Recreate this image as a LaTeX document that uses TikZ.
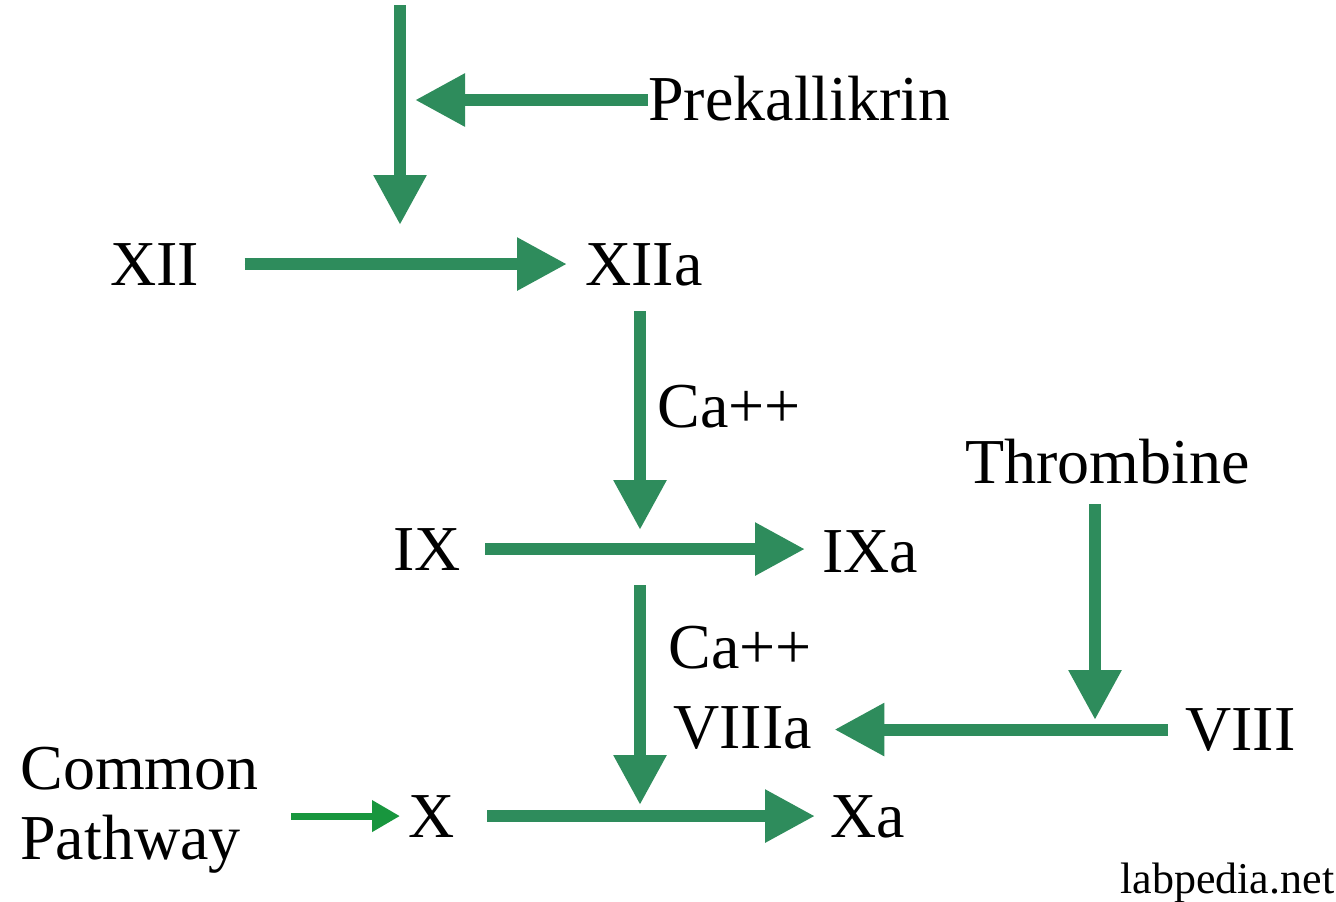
\documentclass[tikz,border=0pt]{standalone}
\usepackage{fontspec}
\setmainfont{Liberation Serif}
\usetikzlibrary{arrows.meta}
\definecolor{flowgreen}{RGB}{46,140,92}
\definecolor{pathgreen}{RGB}{24,150,62}
\begin{document}
\begin{tikzpicture}[
        x=0.5pt, y=-0.5pt,
        every node/.style={inner sep=0pt, anchor=base west, font=\fontsize{32}{33}\selectfont},
        flow/.style={draw=flowgreen, line width=6pt, -{Triangle[length=25pt, width=25pt]}, fill=flowgreen},
        thin flow/.style={draw=pathgreen, line width=3.5pt, -{Triangle[length=14pt, width=15pt]}, fill=pathgreen}
    ]
    \useasboundingbox (0,0) rectangle (1336,901);
    % factors
    \node (pre) at (648,120) {Prekallikrin};
    \node (xii) at (110,285) {XII};
    \node (xiia) at (585,285) {XIIa};
    \node (ca1) at (657,427) {Ca++};
    \node (thr) at (965,483) {Thrombine};
    \node (ix) at (393,570) {IX};
    \node (ixa) at (822,572) {IXa};
    \node (ca2) at (668,668) {Ca++};
    \node (viiia) at (673,748) {VIIIa};
    \node (viii) at (1185,750) {VIII};
    \node[anchor=west, align=left, font=\fontsize{32}{35}\selectfont] (common) at (20,810) {Common\\Pathway};
    \node (x) at (408,837) {X};
    \node (xa) at (830,837) {Xa};
    \node[font=\fontsize{22}{24}\selectfont] (lab) at (1120,893) {labpedia.net};
    % free ends
    \coordinate (top) at (400,5);
    \coordinate (k1) at (400,225);
    \coordinate (k2) at (415,100);
    \coordinate (j1) at (640,530);
    \coordinate (s2) at (640,585);
    \coordinate (j2) at (640,805);
    \coordinate (j3) at (1095,720);
    % arrows
    \draw[flow] (top) -- (k1);
    \draw[flow] (k2 -| pre.west) -- (k2);
    \draw[flow, shorten <=22.5pt, shorten >=9pt] (xii.east) -- (xii.east -| xiia.west);
    \draw[flow, shorten <=12.5pt] (j1 |- xiia.south) -- (j1);
    \draw[flow, shorten <=12pt, shorten >=8.5pt] (ix.east) -- (ix.east -| ixa.west);
    \draw[flow] (s2) -- (j2);
    \draw[flow, shorten <=10pt] (j3 |- thr.south) -- (j3);
    \draw[flow, shorten <=8.5pt, shorten >=11pt] (viii.west) -- (viii.west -| viiia.east);
    \draw[flow, shorten <=16pt, shorten >=7.5pt] (x.east) -- (x.east -| xa.west);
    \draw[thin flow, shorten <=16pt, shorten >=4pt] (common.east |- x.west) -- (x.west);
\end{tikzpicture}
\end{document}
